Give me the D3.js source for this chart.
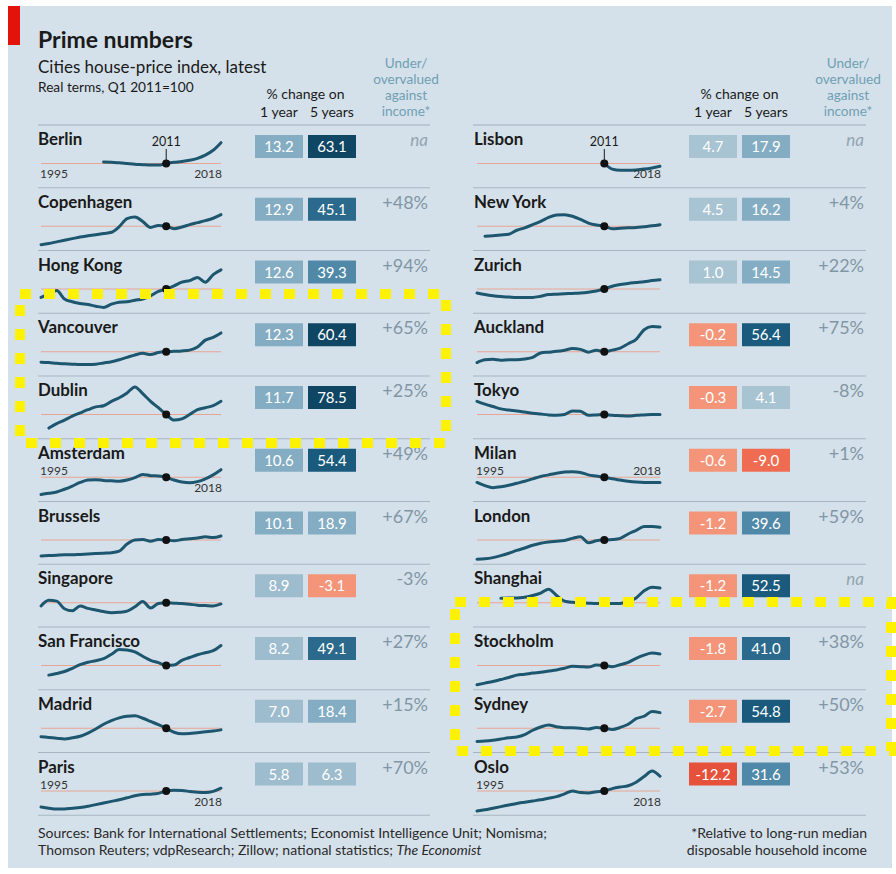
<!DOCTYPE html>
<html><head><meta charset="utf-8">
<script src="https://cdn.jsdelivr.net/npm/d3@7"></script>
<style>
body{margin:0;background:#fff}
svg{display:block}
text{font-family:Lato,"Open Sans",sans-serif}
</style>
</head><body>
<svg id="c" width="896" height="874"></svg>
<script>
// ---------- data ----------
const years = d3.range(1995, 2019);
const yearTicks = ["1995", "2011", "2018"];

const leftCities  = ["Berlin","Copenhagen","Hong Kong","Vancouver","Dublin","Amsterdam","Brussels","Singapore","San Francisco","Madrid","Paris"];
const leftOneYear = [13.2,12.9,12.6,12.3,11.7,10.6,10.1,8.9,8.2,7.0,5.8];
const leftFiveYear= [63.1,45.1,39.3,60.4,78.5,54.4,18.9,-3.1,49.1,18.4,6.3];
const leftValuation=["na","+48%","+94%","+65%","+25%","+49%","+67%","-3%","+27%","+15%","+70%"];

const rightCities  = ["Lisbon","New York","Zurich","Auckland","Tokyo","Milan","London","Shanghai","Stockholm","Sydney","Oslo"];
const rightOneYear = [4.7,4.5,1.0,-0.2,-0.3,-0.6,-1.2,-1.2,-1.8,-2.7,-12.2];
const rightFiveYear= [17.9,16.2,14.5,56.4,4.1,-9.0,39.6,52.5,41.0,54.8,31.6];
const rightValuation=["na","+4%","+22%","+75%","-8%","+1%","+59%","na","+38%","+50%","+53%"];

// house-price index, real terms, 2011=100, yearly 1995..2018 (null = no data)
const sBerlin     = [null,null,null,null,null,null,null,null,104,103,102,100,98,97,96,96,100,103,105,108,113,121,133,152];
const sCopenhagen = [54,57,61,65,69,73,76,79,82,85,99,119,123,112,97,102,100,94,98,104,109,114,120,129];
const sHongKong   = [79,87,96,75,68,64,61,57,54,62,67,68,72,75,83,94,100,108,117,121,129,117,136,148];
const sVancouver  = [74,73,71,70,69,68,68,69,72,75,80,86,92,96,93,98,100,101,102,104,112,129,136,147];
const sDublin     = [null,66,77,86,96,104,112,119,122,133,142,154,169,152,133,117,100,86,89,100,112,117,122,133];
const sAmsterdam  = [57,60,63,70,78,87,93,94,92,91,90,93,99,107,104,103,100,93,88,86,89,96,106,119];
const sBrussels   = [60,61,62,63,63,64,65,66,67,68,72,90,100,101,97,101,100,98,101,103,105,108,106,110];
const sSingapore  = [92,106,104,85,80,92,86,82,78,75,76,79,90,103,87,98,100,99,98,96,94,93,92,97];
const sSanFran    = [null,76,80,85,93,102,108,112,117,128,140,139,134,123,113,107,100,101,113,120,127,132,137,150];
const sMadrid     = [79,77,75,73,76,80,88,98,110,119,126,130,131,125,117,109,100,90,86,87,89,91,93,96];
const sParis      = [60,57,55,55,57,59,62,66,70,74,78,83,88,91,92,94,100,102,101,99,97,96,99,107];

const sLisbon     = [null,null,null,null,null,null,null,null,null,null,null,null,null,null,null,null,100,86,83,83,84,86,89,93];
const sNewYork    = [null,75,76,78,80,90,96,104,112,122,128,129,125,117,108,103,100,94,95,96,97,99,101,104];
const sZurich     = [90,86,83,81,80,79,79,79,82,86,87,88,89,90,92,95,100,107,111,114,116,118,121,123];
const sAuckland   = [73,80,81,79,80,80,82,86,97,99,101,104,108,106,99,104,100,104,109,120,131,155,163,162];
const sTokyo      = [133,126,120,114,111,109,106,103,101,99,98,100,109,108,98,99,100,98,97,96,98,99,100,100];
const sMilan      = [87,79,74,76,80,85,90,96,102,106,110,113,114,112,106,103,100,96,93,90,88,87,87,87];
const sLondon     = [52,53,56,61,67,74,80,87,92,95,97,99,104,108,93,98,100,101,104,115,124,134,134,132];
const sShanghai   = [null,null,null,111,112,112,114,118,124,134,118,104,101,100,99,98,100,98,98,104,112,130,139,137];
const sStockholm  = [52,56,60,65,70,76,78,81,83,86,89,93,98,97,96,101,100,97,102,108,118,126,131,129];
const sSydney     = [67,68,70,73,76,78,84,95,103,108,104,101,101,100,98,102,100,97,102,110,124,130,142,139];
const sOslo       = [50,53,57,61,65,69,72,75,78,82,86,93,100,96,95,98,100,106,110,113,122,136,150,137];

const leftSeries  = [sBerlin,sCopenhagen,sHongKong,sVancouver,sDublin,sAmsterdam,sBrussels,sSingapore,sSanFran,sMadrid,sParis];
const rightSeries = [sLisbon,sNewYork,sZurich,sAuckland,sTokyo,sMilan,sLondon,sShanghai,sStockholm,sSydney,sOslo];

// which rows carry year labels: [city, 1995 label, 2018 label, 2011 label]
const yearLabelRows = [
  ["Berlin","below","below",true],
  ["Amsterdam","above","below",false],
  ["Paris","above","below",false],
  ["Lisbon",null,"below",true],
  ["Milan","above","above",false],
  ["Oslo","above","below",false]
];

// ---------- drawing ----------
const svg = d3.select("#c");
const W = 896, H = 874;

svg.append("rect").attr("width",W).attr("height",H).attr("fill","#ffffff");
svg.append("rect").attr("x",8).attr("y",6).attr("width",884).attr("height",862).attr("fill","#d5e1ea");
svg.append("rect").attr("x",8).attr("y",6).attr("width",12).attr("height",39).attr("fill","#e3120b");

svg.append("text").attr("x",38).attr("y",48).attr("font-size",23).attr("font-weight",700).attr("fill","#1a1a1a").text("Prime numbers");
svg.append("text").attr("x",38).attr("y",73).attr("font-size",17).attr("fill","#1a1a1a").text("Cities house-price index, latest");
svg.append("text").attr("x",38).attr("y",92).attr("font-size",13.7).attr("fill","#1a1a1a").text("Real terms, Q1 2011=100");

const colorScale = d3.scaleThreshold()
  .domain([-10,-5,0,5,10,20,40,50,60])
  .range(["#e5513b","#ef6c53","#f4957a","#a8c3d2","#9dbccd","#84adc3","#5089a8","#2b6a8c","#1a5a7c","#0f4664"]);

const rowTop0 = 125, rowH = 62.75;

function drawColumn(cfg){
  const g = svg.append("g");
  const hc = (cfg.box1 + cfg.box2 + cfg.boxW) / 2;
  g.append("text").attr("x",hc).attr("y",99).attr("text-anchor","middle").attr("font-size",14).attr("fill","#1a1a1a").text("% change on");
  g.append("text").attr("x",cfg.box1+cfg.boxW/2).attr("y",117).attr("text-anchor","middle").attr("font-size",14).attr("fill","#1a1a1a").text("1 year");
  g.append("text").attr("x",cfg.box2+cfg.boxW/2).attr("y",117).attr("text-anchor","middle").attr("font-size",14).attr("fill","#1a1a1a").text("5 years");
  ["Under/","overvalued","against","income*"].forEach((t,i)=>{
    g.append("text").attr("x",cfg.uc).attr("y",68+i*16).attr("text-anchor","middle").attr("font-size",13.6).attr("fill","#6f9fb4").text(t);
  });
  g.append("line").attr("x1",cfg.l0).attr("x2",cfg.l1).attr("y1",rowTop0).attr("y2",rowTop0).attr("stroke","#9fb0bc").attr("stroke-width",1.2);

  const x = d3.scaleLinear().domain([1995,2018]).range([cfg.sx0,cfg.sx1]);

  cfg.cities.forEach((city,i)=>{
    const t = rowTop0 + i*rowH;
    const base = t + 38.5;
    const y = d3.scaleLinear().domain([0,200]).range([base+40, base-40]);
    const rg = g.append("g");
    rg.append("line").attr("x1",cfg.l0).attr("x2",cfg.l1).attr("y1",t+rowH).attr("y2",t+rowH).attr("stroke","#a6b6c1").attr("stroke-width",1.2);
    rg.append("text").attr("x",cfg.nx).attr("y",t+20).attr("font-size",16.9).attr("font-weight",700).attr("fill","#1a1a1a").text(city);
    rg.append("line").attr("x1",x(1995)).attr("x2",x(2018)).attr("y1",y(100)).attr("y2",y(100)).attr("stroke","#e6a595").attr("stroke-width",1);
    const data = years.map((yr,k)=>({yr, v: cfg.series[i][k]}));
    const line = d3.line().defined(d=>d.v!=null).x(d=>x(d.yr)).y(d=>y(d.v)).curve(d3.curveMonotoneX);
    rg.append("path").attr("d",line(data)).attr("fill","none").attr("stroke","#1c566f").attr("stroke-width",3).attr("stroke-linejoin","round").attr("stroke-linecap","round");
    rg.append("circle").attr("cx",x(2011)).attr("cy",y(100)).attr("r",4).attr("fill","#111");

    const yl = yearLabelRows.find(r=>r[0]===city);
    if (yl){
      const pos = p => p==="above" ? t+36.5 : t+53;
      if (yl[1]) rg.append("text").attr("x",x(1995)-1).attr("y",pos(yl[1])).attr("font-size",12).attr("fill","#333").text(yearTicks[0]);
      if (yl[2]) rg.append("text").attr("x",x(2018)+1).attr("y",pos(yl[2])).attr("text-anchor","end").attr("font-size",12).attr("fill","#333").text(yearTicks[2]);
      if (yl[3]){
        rg.append("text").attr("x",x(2011)).attr("y",t+21).attr("text-anchor","middle").attr("font-size",12.5).attr("fill","#1a1a1a").text(yearTicks[1]);
        rg.append("line").attr("x1",x(2011)).attr("x2",x(2011)).attr("y1",t+24).attr("y2",y(100)).attr("stroke","#1a1a1a").attr("stroke-width",1);
      }
    }
    [[cfg.box1,cfg.one[i]],[cfg.box2,cfg.five[i]]].forEach(([bx,v])=>{
      rg.append("rect").attr("x",bx).attr("y",t+10).attr("width",cfg.boxW).attr("height",23).attr("fill",colorScale(v));
      rg.append("text").attr("x",bx+cfg.boxW/2).attr("y",t+27).attr("text-anchor","middle").attr("font-size",15).attr("fill","#ffffff").text(v.toFixed(1));
    });
    const val = cfg.val[i];
    rg.append("text").attr("x",cfg.vx).attr("y",t+21).attr("text-anchor","end")
      .attr("font-size", val==="na"?17:18).attr("font-style", val==="na"?"italic":"normal")
      .attr("fill", val==="na" ? "#92a4b1" : "#8196a5").text(val);
  });
}

drawColumn({cities:leftCities, one:leftOneYear, five:leftFiveYear, val:leftValuation, series:leftSeries,
  nx:38, sx0:41, sx1:221, box1:255, box2:308, boxW:48, vx:428, uc:406, l0:38, l1:430});
drawColumn({cities:rightCities, one:rightOneYear, five:rightFiveYear, val:rightValuation, series:rightSeries,
  nx:474, sx0:477, sx1:660, box1:689, box2:742, boxW:48, vx:864, uc:848, l0:473, l1:866});

// footer
const fg = svg.append("g").attr("font-size",14).attr("fill","#2a2a2a");
fg.append("text").attr("x",38).attr("y",838).text("Sources: Bank for International Settlements; Economist Intelligence Unit; Nomisma;");
const f2 = fg.append("text").attr("x",38).attr("y",855);
f2.append("tspan").text("Thomson Reuters; vdpResearch; Zillow; national statistics; ");
f2.append("tspan").attr("font-style","italic").text("The Economist");
fg.append("text").attr("x",867).attr("y",838).attr("text-anchor","end").text("*Relative to long-run median");
fg.append("text").attr("x",867).attr("y",855).attr("text-anchor","end").text("disposable household income");

// highlight frames
[[20,294,426,149],[455,602,436,149]].forEach(([x0,y0,w,h])=>{
  svg.append("rect").attr("x",x0).attr("y",y0).attr("width",w).attr("height",h)
    .attr("fill","none").attr("stroke","#fff200").attr("stroke-width",10).attr("stroke-dasharray","11 13");
});
</script>
</body></html>
